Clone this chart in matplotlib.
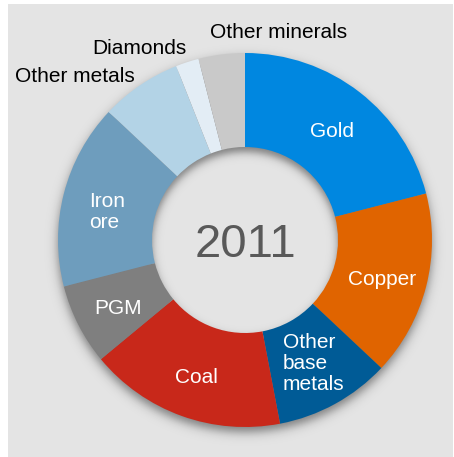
import numpy as np
import matplotlib
matplotlib.use("Agg")
import matplotlib.pyplot as plt
from matplotlib.patches import Rectangle

plt.rcParams["font.family"] = ["Liberation Sans", "DejaVu Sans"]

# share of output by commodity, clockwise from 12 o'clock
categories = ["Gold", "Copper", "Other\nbase\nmetals", "Coal", "PGM",
              "Iron\nore", "Other metals", "Diamonds", "Other minerals"]
shares = [21, 16, 10, 17, 7, 16, 7, 2, 4]
colors = ["#0087E0", "#E06400", "#005B96", "#C8281A", "#7F7F7F",
          "#6E9DBD", "#B3D3E6", "#E3EDF5", "#C9C9C9"]
inside = [True, True, True, True, True, True, False, False, False]
year = "2011"

W, H = 454, 457
cx, cy = 245, 217
r_out, r_in = 187, 93

fig = plt.figure(figsize=(W / 100, H / 100), dpi=100)
ax = fig.add_axes([0, 0, 1, 1])
ax.add_patch(Rectangle((8, 0), 445, 453, facecolor="#E4E4E4", edgecolor="none", zorder=0))

# soft drop shadow of the ring, cast slightly downward
xs, ys = np.meshgrid(np.arange(W) + 0.5, np.arange(H) + 0.5)
d = np.hypot(xs - cx, ys - (cy - 5))
soft = lambda v, s: 1 / (1 + np.exp(-v / s))
alpha = 0.45 * soft(r_out - d, 3) * soft(d - r_in, 2.5)
shadow = np.zeros((H, W, 4))
shadow[..., 3] = alpha
ax.imshow(shadow, extent=(0, W, 0, H), origin="lower", zorder=1, interpolation="bilinear")

wedges, _ = ax.pie(shares, colors=colors, startangle=90, counterclock=False,
                   center=(cx, cy), radius=r_out,
                   wedgeprops=dict(width=r_out - r_in, linewidth=0, zorder=2))

# labels sit mid-ring; a few need a small vertical nudge
r_lab = 142
nudge = {"Iron\nore": -7, "Other\nbase\nmetals": 1}
for w, name, inner in zip(wedges, categories, inside):
    if not inner:
        continue
    t = np.deg2rad((w.theta1 + w.theta2) / 2)
    ax.text(cx + r_lab * np.cos(t), cy + r_lab * np.sin(t) + nudge.get(name, -4), name,
            color="white", fontsize=15, ha="center", va="center", multialignment="left",
            linespacing=1.12, zorder=3)

outer_pos = {"Other metals": (75, 381), "Diamonds": (139.5, 409), "Other minerals": (279, 425)}
for name, (x, y) in outer_pos.items():
    ax.text(x, y, name, color="black", fontsize=15, ha="center", va="center", zorder=3)

ax.text(cx, cy - 17, year, color="#595959", fontsize=34, ha="center", va="baseline", zorder=3)

ax.set_xlim(0, W)
ax.set_ylim(0, H)
ax.set_aspect("auto")
ax.axis("off")

fig.savefig("out.png", dpi=100, facecolor="white")
